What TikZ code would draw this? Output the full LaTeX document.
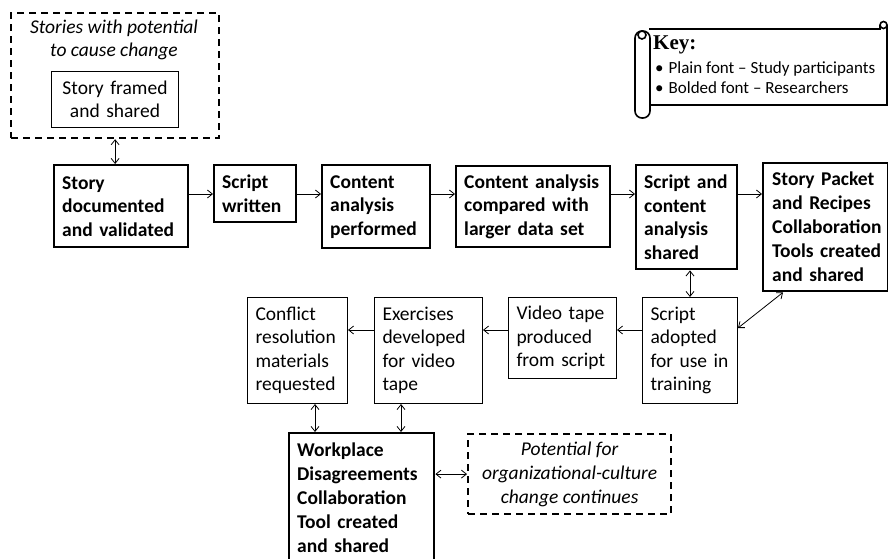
\documentclass[tikz,border=0pt]{standalone}
\usepackage{fontspec}
\setmainfont{Carlito}
\newfontfamily\keyfont{Liberation Serif}
\usetikzlibrary{arrows.meta,calc}
\hyphenpenalty=10000
\exhyphenpenalty=10000
\begin{document}
\begin{tikzpicture}[x=1pt,y=-1pt,
  txt/.style={font=\fontsize{19.5}{23.5}\selectfont},
  bbox/.style={draw, line width=2.4pt, anchor=north west, align=left, inner xsep=8pt, inner ysep=0pt, font=\fontsize{19.5}{23.5}\selectfont\bfseries},
  tbox/.style={draw, line width=1pt, anchor=north west, align=left, inner xsep=8pt, inner ysep=0pt, font=\fontsize{19.5}{23.5}\selectfont},
  dbox/.style={draw, line width=2.2pt, dash pattern=on 7pt off 5pt, anchor=north west, inner sep=0pt},
  arr/.style={line width=0.8pt, -{Straight Barb[length=5pt,width=8pt]}},
  darr/.style={line width=0.8pt, {Straight Barb[length=5pt,width=8pt]}-{Straight Barb[length=5pt,width=8pt]}},
  kl/.style={line width=1.6pt},
]
\useasboundingbox (0,0) rectangle (888,559);

% top dashed group
\node[dbox, minimum width=208pt, minimum height=125pt] (grp) at (10,12) {};
\node[txt, font=\fontsize{19.5}{23.5}\selectfont\itshape, align=center] (grptitle) at (114,40) {Stories with potential\\to cause change};
\node[tbox, align=center, text width=111pt, minimum height=56pt] (sf) at (51,71) {Story framed\\and shared};

% top row
\node[bbox, text width=118pt, minimum height=82pt] (doc) at (53,164) {Story\\documented\\and validated};
\node[bbox, text width=66pt, minimum height=57pt] (sw) at (213,164) {Script\\written};
\node[bbox, text width=92pt, minimum height=83pt] (cap) at (321,164) {Content\\analysis\\performed};
\node[bbox, text width=138pt, minimum height=81pt] (cac) at (455,165) {Content analysis\\compared with\\larger data set};
\node[bbox, text width=85pt, minimum height=104pt] (scs) at (635,164) {Script and\\content\\analysis\\shared};
\node[bbox, text width=107pt, minimum height=128pt, inner xsep=9pt, font=\fontsize{19.5}{24}\selectfont\bfseries] (sp) at (762,162) {Story~Packet\\and~Recipes\\Collaboration\\Tools~created\\and~shared};

% bottom row
\node[tbox, text width=84pt, minimum height=106pt] (cr) at (247,297) {Conflict\\resolution\\materials\\requested};
\node[tbox, text width=92pt, minimum height=106pt] (ex) at (374,297) {Exercises\\developed\\for video\\tape};
\node[tbox, text width=92pt, minimum height=81pt] (vt) at (508,297) {Video tape\\produced\\from script};
\node[tbox, text width=79pt, minimum height=106pt] (sa) at (642,297) {Script\\adopted\\for use in\\training};

% bottom
\node[bbox, text width=129pt, minimum height=130pt, font=\fontsize{19.5}{24}\selectfont\bfseries] (wp) at (288,432) {Workplace\\Disagreements\\Collaboration\\Tool created\\and shared};
\node[dbox, minimum width=203pt, minimum height=80pt, align=center, font=\fontsize{19.5}{24}\selectfont\itshape] (pot) at (467,433) {Potential for\\organizational-culture\\change continues};

% key scroll
\draw[kl] (649,29) -- (880,29) -- (880,25);
\draw[kl] (883.5,25) circle[radius=3.5];
\draw[kl] (887,25) -- (887,105) -- (650,105);
\draw[kl, fill=white, rounded corners=7pt] (635,31) rectangle (650,118);
\draw[kl] (642,35) circle[radius=4];
\node[anchor=base west, inner sep=0, font=\keyfont\bfseries\fontsize{21}{21}\selectfont] (keyt) at (653,50) {Key:};
\node[anchor=base west, inner sep=0, font=\fontsize{17}{20}\selectfont] (key1) at (655,74) {\textbullet\hspace{5pt}Plain font – Study participants};
\node[anchor=base west, inner sep=0, font=\fontsize{17}{20}\selectfont] (key2) at (655,94) {\textbullet\hspace{5pt}Bolded font – Researchers};

% connectors
\coordinate (row1) at (0,194);
\draw[arr] (doc.east |- row1) -- (sw.west |- row1);
\draw[arr] (sw.east |- row1) -- (cap.west |- row1);
\draw[arr] (cap.east |- row1) -- (cac.west |- row1);
\draw[arr] (cac.east |- row1) -- (scs.west |- row1);
\draw[arr] (scs.east |- row1) -- (sp.west |- row1);
\draw[darr] (grp.south) -- (grp.south |- doc.north);
\draw[darr] (scs.south -| sa.north) -- (sa.north);
\coordinate (row2) at (0,330);
\draw[arr] (sa.west |- row2) -- (vt.east |- row2);
\draw[arr] (vt.west |- row2) -- (ex.east |- row2);
\draw[arr] (ex.west |- row2) -- (cr.east |- row2);
\coordinate (c1) at (315,0);
\coordinate (c2) at (401,0);
\draw[darr] (cr.south -| c1) -- (wp.north -| c1);
\draw[darr] (ex.south -| c2) -- (wp.north -| c2);
\draw[darr] (wp.east |- pot.west) -- (pot.west);
\coordinate (d1) at (0,328);
\coordinate (d2) at (783,0);
\draw[darr] (sa.east |- d1) -- (sp.south -| d2);
\end{tikzpicture}
\end{document}
